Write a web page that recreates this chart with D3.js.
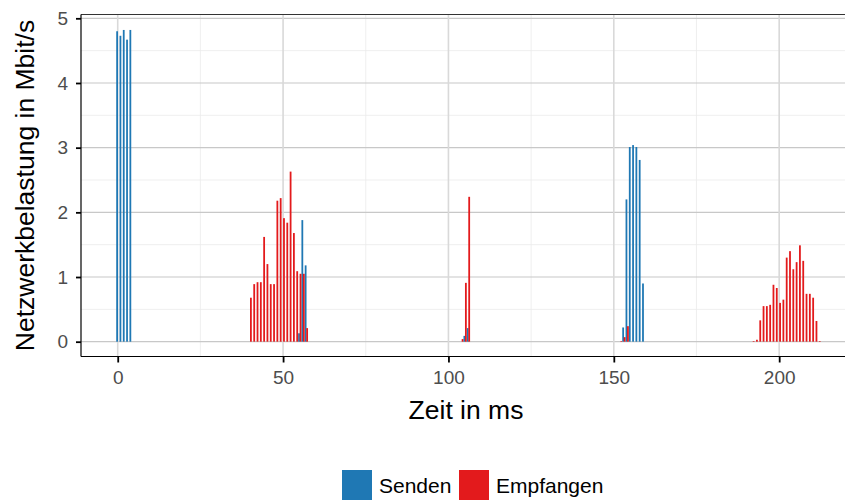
<!DOCTYPE html>
<html>
<head>
<meta charset="utf-8">
<script src="https://cdn.jsdelivr.net/npm/d3@7"></script>
<style>
  html, body { margin: 0; padding: 0; background: #ffffff; }
  svg { display: block; font-family: "Liberation Sans", Arial, sans-serif; }
</style>
</head>
<body>
<svg id="chart" width="845" height="501"></svg>
<script>
// ---- data ----
const seriesNames = ["Senden", "Empfangen"];
const seriesColors = ["#1f78b4", "#e31a1c"];

const sendenTime  = [0, 1, 2, 3, 4, 55, 56, 57, 105, 106, 153, 154, 155, 156, 157, 158, 159];
const sendenValue = [4.80, 4.73, 4.82, 4.67, 4.82, 0.13, 1.88, 1.18, 0.09, 0.21, 0.22, 2.20, 3.01, 3.04, 3.01, 2.81, 0.90];

const empfangenTime  = [40, 41, 42, 43, 44, 45, 46, 47, 48, 49, 50, 51, 52, 53, 54, 55, 56, 57,
                        104, 105, 106,
                        152, 153, 154,
                        192, 193, 194, 195, 196, 197, 198, 199, 200, 201, 202, 203, 204, 205, 206, 207, 208, 209, 210, 211, 212];
const empfangenValue = [0.68, 0.89, 0.92, 0.92, 1.62, 1.20, 0.89, 0.89, 2.18, 2.22, 1.91, 1.84, 2.63, 1.68, 1.09, 1.05, 1.05, 0.21,
                        0.04, 0.91, 2.24,
                        0.01, 0.07, 0.24,
                        0.01, 0.03, 0.33, 0.55, 0.55, 0.57, 0.88, 0.83, 0.60, 0.65, 1.30, 1.40, 1.12, 1.23, 1.49, 1.25, 0.74, 0.74, 0.68, 0.32, 0.01];

const xTicks = [0, 50, 100, 150, 200];
const xMinorTicks = [25, 75, 125, 175];
const yTicks = [0, 1, 2, 3, 4, 5];
const yMinorTicks = [0.5, 1.5, 2.5, 3.5, 4.5];
const xTitle = "Zeit in ms";
const yTitle = "Netzwerkbelastung in Mbit/s";

// ---- layout ----
const svg = d3.select("#chart");
const panel = { left: 81, right: 845, top: 14.5, bottom: 356.5 };

const x = d3.scaleLinear().domain([-11.1, 219.9]).range([panel.left, panel.right]);
const y = d3.scaleLinear().domain([-0.229, 5.059]).range([panel.bottom, panel.top]);

// dodge: each time step gets 0.9 width, split in two groups
const dodgeWidth = 0.9;
const barW = dodgeWidth / 2;

const bars = [];
sendenTime.forEach((t, i) => bars.push({ t, v: sendenValue[i], g: 0 }));
empfangenTime.forEach((t, i) => bars.push({ t, v: empfangenValue[i], g: 1 }));

// grid
const grid = svg.append("g");
grid.selectAll("line.ymin").data(yMinorTicks).join("line")
  .attr("x1", panel.left).attr("x2", panel.right)
  .attr("y1", d => y(d)).attr("y2", d => y(d))
  .attr("stroke", "#ebebeb").attr("stroke-width", 0.8);
grid.selectAll("line.xmin").data(xMinorTicks).join("line")
  .attr("y1", panel.top).attr("y2", panel.bottom)
  .attr("x1", d => x(d)).attr("x2", d => x(d))
  .attr("stroke", "#ebebeb").attr("stroke-width", 0.8);
grid.selectAll("line.ymaj").data(yTicks).join("line")
  .attr("x1", panel.left).attr("x2", panel.right)
  .attr("y1", d => y(d)).attr("y2", d => y(d))
  .attr("stroke", "#c8c8c8").attr("stroke-width", 1.2);
grid.selectAll("line.xmaj").data(xTicks).join("line")
  .attr("y1", panel.top).attr("y2", panel.bottom)
  .attr("x1", d => x(d)).attr("x2", d => x(d))
  .attr("stroke", "#d9d9d9").attr("stroke-width", 1.6);

// bars
svg.append("g").selectAll("rect").data(bars).join("rect")
  .attr("x", d => x(d.t - dodgeWidth / 2 + d.g * barW))
  .attr("width", d => x(d.t - dodgeWidth / 2 + (d.g + 1) * barW) - x(d.t - dodgeWidth / 2 + d.g * barW) + 0.3)
  .attr("y", d => y(d.v))
  .attr("height", d => y(0) - y(d.v))
  .attr("fill", d => seriesColors[d.g]);

// top border
svg.append("line")
  .attr("x1", panel.left).attr("x2", panel.right)
  .attr("y1", panel.top).attr("y2", panel.top)
  .attr("stroke", "#333333").attr("stroke-width", 1.1);

// axes
const xAxis = d3.axisBottom(x).tickValues(xTicks).tickSize(6).tickPadding(8).tickFormat(d3.format("d"));
const yAxis = d3.axisLeft(y).tickValues(yTicks).tickSize(5).tickPadding(8).tickFormat(d3.format("d"));

const gx = svg.append("g").attr("transform", `translate(0,${panel.bottom})`).call(xAxis);
const gy = svg.append("g").attr("transform", `translate(${panel.left},0)`).call(yAxis);

[gx, gy].forEach(g => {
  g.select(".domain").attr("stroke", "#000").attr("stroke-width", 1.2);
  g.selectAll(".tick line").attr("stroke", "#000").attr("stroke-width", 1.8);
  g.selectAll(".tick text").attr("fill", "#4d4d4d").style("font-size", "19px")
    .style("font-family", "'Liberation Sans', Arial, sans-serif");
});
gx.select(".domain").attr("d", `M${panel.left},0H${panel.right}`);
gy.select(".domain").attr("d", `M0,${panel.top}V${panel.bottom}`);

// titles
svg.append("text")
  .attr("x", (panel.left + panel.right) / 2 + 3).attr("y", 419)
  .attr("text-anchor", "middle").attr("fill", "#000")
  .style("font-size", "26.5px").text(xTitle);

svg.append("text")
  .attr("transform", `translate(34,${(panel.top + panel.bottom) / 2}) rotate(-90)`)
  .attr("text-anchor", "middle").attr("fill", "#000")
  .style("font-size", "26.5px").text(yTitle);

// legend
const legend = svg.append("g");
const keySize = 30;
const legendItems = [
  { name: seriesNames[0], color: seriesColors[0], kx: 342, tx: 379 },
  { name: seriesNames[1], color: seriesColors[1], kx: 459, tx: 496 }
];
legendItems.forEach(it => {
  legend.append("rect").attr("x", it.kx).attr("y", 470).attr("width", keySize).attr("height", keySize)
    .attr("fill", it.color);
  legend.append("text").attr("x", it.tx).attr("y", 493).attr("fill", "#000")
    .style("font-size", "21px").text(it.name);
});
</script>
</body>
</html>
